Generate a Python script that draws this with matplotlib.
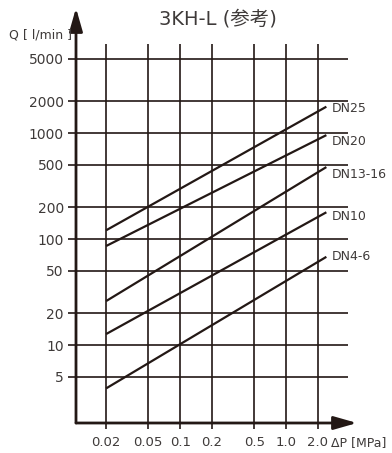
import matplotlib
matplotlib.use("Agg")
import matplotlib.pyplot as plt

# ---- data ----
dp_ticks = [0.02, 0.05, 0.1, 0.2, 0.5, 1.0, 2.0]
dp_labels = ["0.02", "0.05", "0.1", "0.2", "0.5", "1.0", "2.0"]
q_ticks = [5, 10, 20, 50, 100, 200, 500, 1000, 2000, 5000]

series = ["DN25", "DN20", "DN13-16", "DN10", "DN4-6"]
dp_range = [0.02, 2.4]
q_start = [121, 86, 26, 12.7, 3.9]
q_end = [1774, 957, 478, 179, 68]

INK = "#231815"
TEXT = "#3e3a39"
plt.rcParams["font.family"] = ["DejaVu Sans", "Noto Sans CJK JP"]

W, H = 392, 453
fig = plt.figure(figsize=(W / 100, H / 100), dpi=100)
# axes box in pixels: left 76, right 357, bottom 423, top 8
ax = fig.add_axes([76 / W, (H - 423) / H, (357 - 76) / W, (423 - 8) / H])
ax.set_xscale("log")
ax.set_yscale("log")
ax.set_xlim(0.0104, 4.67)
ax.set_ylim(1.84, 10 ** (0.265 + 415 / 106))

for s in ax.spines.values():
    s.set_visible(False)

# grid lines (limited extents)
ax.hlines(q_ticks, ax.get_xlim()[0], 3.84, color=INK, lw=1.2, zorder=1)
ax.vlines(dp_ticks, ax.get_ylim()[0], 6900, color=INK, lw=1.2, zorder=1)

# axis arrows
arrow = dict(arrowstyle="-|>,head_length=0.7,head_width=0.2",
             color=INK, lw=2, mutation_scale=20, shrinkA=0, shrinkB=0)
ax.annotate("", xy=(0, 1), xytext=(0, 0), xycoords="axes fraction", arrowprops=arrow)
ax.annotate("", xy=(1, 0), xytext=(0, 0), xycoords="axes fraction", arrowprops=arrow)

# ticks
ax.set_xticks(dp_ticks)
ax.set_xticklabels(dp_labels)
ax.set_yticks(q_ticks)
ax.set_yticklabels([str(v) for v in q_ticks])
ax.minorticks_off()
ax.tick_params(axis="x", length=4.3, width=1.2, color=INK, pad=5,
               labelsize=9.5, labelcolor=TEXT)
ax.tick_params(axis="y", length=5.8, width=1.2, color=INK, pad=3,
               labelsize=10, labelcolor=TEXT)

# series lines + labels
label_drop = [2, 6, 7, 4, 0]  # px downward offset of labels
for name, a, b, d in zip(series, q_start, q_end, label_drop):
    ax.plot(dp_range, [a, b], color=INK, lw=1.6, solid_capstyle="butt", zorder=3)
    ax.annotate(name, xy=(dp_range[1], b), xytext=(4, -d * 0.72),
                textcoords="offset points", ha="left", va="center",
                fontsize=9, color=TEXT)

fig.text(218 / W, 1 - 19 / H, "3KH-L (参考)", ha="center", va="center",
         fontsize=14, color=TEXT)
fig.text(72 / W, 1 - 35 / H, "Q [ l/min ]", ha="right", va="center",
         fontsize=9, color=TEXT)
fig.text(331 / W, 1 - 443 / H, "ΔP [MPa]", ha="left", va="center",
         fontsize=9, color=TEXT)

fig.savefig("out.png", dpi=100)
